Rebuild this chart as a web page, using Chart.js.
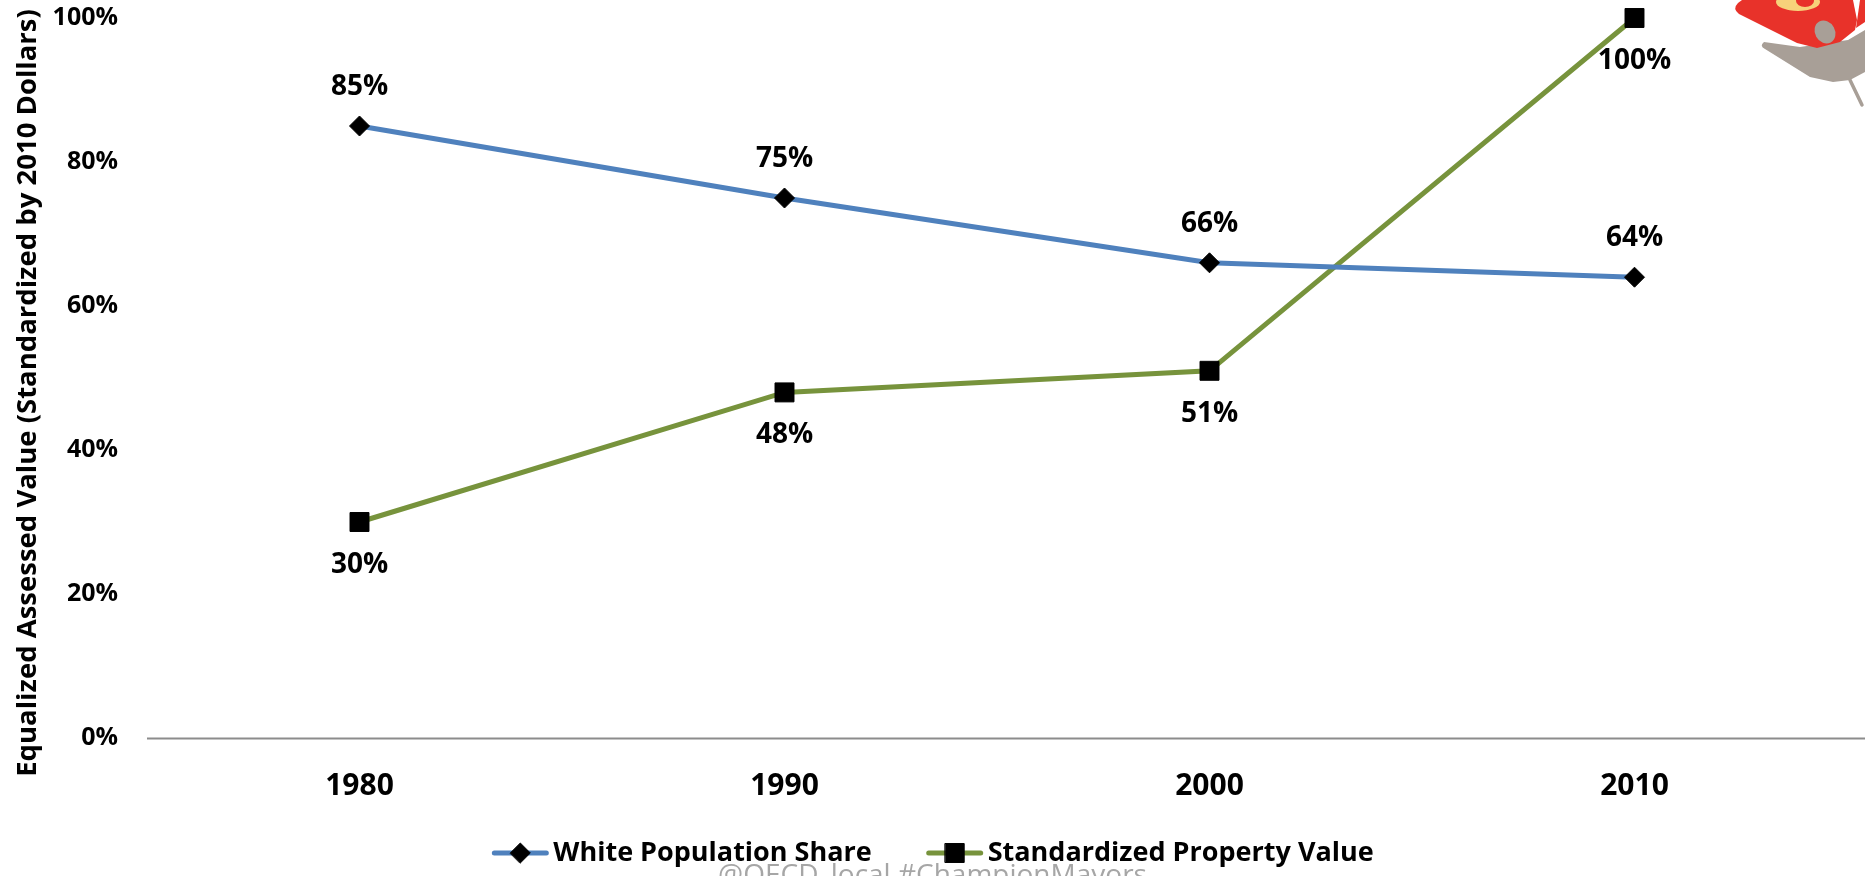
<!DOCTYPE html>
<html>
<head>
<meta charset="utf-8">
<script src="https://cdn.jsdelivr.net/npm/chart.js@4.4.1/dist/chart.umd.min.js"></script>
<style>
body { margin: 0; background: #fff; }
canvas { display: block; }
</style>
</head>
<body>
<canvas id="chart" width="1865" height="876"></canvas>
<script>
// values
var years = ['1980', '1990', '2000', '2010']
var whiteShare = [85, 75, 66, 64]
var propertyValue = [30, 48, 51, 100]
var seriesNames = ['White Population Share', 'Standardized Property Value']
var yTitle = 'Equalized Assessed Value (Standardized by 2010 Dollars)'
var watermark = '@OECD_local #ChampionMayors'

var FONT = '"Open Sans", "Noto Sans", sans-serif'
var BLUE = '#4f81bd'
var GREEN = '#77933c'

// value labels above / below each marker
var labelsPlugin = {
    id: 'valueLabels',
    afterDatasetsDraw: function (chart) {
        var ctx = chart.ctx
        ctx.save()
        ctx.font = 'bold 28px ' + FONT
        ctx.fillStyle = '#000'
        ctx.textAlign = 'center'
        ctx.textBaseline = 'middle'
        chart.data.datasets.forEach(function (ds, i) {
            var off = i == 0 ? -39 : 43
            chart.getDatasetMeta(i).data.forEach(function (pt, j) {
                ctx.fillText(ds.data[j] + '%', pt.x, pt.y + off)
            })
        })
        ctx.restore()
    }
}

// zero line running out to the right edge, like the original axis
// + the y title, which sits a bit lower than chart.js would centre it
var axisPlugin = {
    id: 'axisExtras',
    beforeDatasetsDraw: function (chart) {
        var ctx = chart.ctx
        var y = Math.round(chart.scales.y.getPixelForValue(0)) + 0.5
        ctx.save()
        ctx.strokeStyle = '#8c8c8c'
        ctx.lineWidth = 2
        ctx.beginPath()
        ctx.moveTo(chart.chartArea.left, y)
        ctx.lineTo(chart.width, y)
        ctx.stroke()

        ctx.translate(28, 393)
        ctx.rotate(-Math.PI / 2)
        ctx.font = 'bold 27.5px ' + FONT
        ctx.fillStyle = '#000'
        ctx.textAlign = 'center'
        ctx.textBaseline = 'middle'
        ctx.fillText(yTitle, 0, 0)
        ctx.restore()
    }
}

// legend with line + marker, watermark and logo
var extrasPlugin = {
    id: 'extras',
    afterDraw: function (chart) {
        var ctx = chart.ctx
        ctx.save()
        ctx.font = 'bold 27px ' + FONT
        var lineW = 58, gap = 4, itemGap = 54
        var w0 = ctx.measureText(seriesNames[0]).width
        var w1 = ctx.measureText(seriesNames[1]).width
        var total = lineW + gap + w0 + itemGap + lineW + gap + w1
        var x = chart.width / 2 - total / 2
        var y = 853
        chart.data.datasets.forEach(function (ds, i) {
            ctx.strokeStyle = ds.borderColor
            ctx.lineWidth = 5
            ctx.lineCap = 'round'
            ctx.beginPath()
            ctx.moveTo(x + 3, y)
            ctx.lineTo(x + lineW - 3, y)
            ctx.stroke()
            ctx.fillStyle = '#000'
            ctx.strokeStyle = '#000'
            ctx.lineWidth = 1
            Chart.helpers.drawPoint(ctx, {
                pointStyle: ds.pointStyle,
                radius: ds.pointRadius,
                borderWidth: 1
            }, x + lineW / 2, y)
            ctx.textAlign = 'left'
            ctx.textBaseline = 'middle'
            ctx.fillText(ds.label, x + lineW + gap, y)
            x += lineW + gap + (i == 0 ? w0 : w1) + itemGap
        })

        ctx.font = '28px ' + FONT
        ctx.fillStyle = '#a6a6a6'
        ctx.textAlign = 'center'
        ctx.textBaseline = 'alphabetic'
        ctx.fillText(watermark, chart.width / 2, 884)

        // rough logo in the top right corner
        ctx.fillStyle = '#a89f97'
        ctx.beginPath()
        ctx.moveTo(1764, 42)
        ctx.quadraticCurveTo(1759, 46, 1765, 49)
        ctx.lineTo(1810, 77)
        ctx.lineTo(1833, 82)
        ctx.lineTo(1850, 80)
        ctx.lineTo(1865, 72)
        ctx.lineTo(1865, 30)
        ctx.lineTo(1848, 40)
        ctx.lineTo(1800, 47)
        ctx.closePath()
        ctx.fill()
        ctx.strokeStyle = '#a89f97'
        ctx.lineWidth = 3.5
        ctx.beginPath()
        ctx.moveTo(1850, 80)
        ctx.lineTo(1862, 105)
        ctx.stroke()

        ctx.fillStyle = '#e8322a'
        ctx.beginPath()
        ctx.moveTo(1738, 3)
        ctx.quadraticCurveTo(1732, 9, 1739, 14)
        ctx.lineTo(1797, 43)
        ctx.lineTo(1817, 48)
        ctx.lineTo(1840, 42)
        ctx.lineTo(1855, 30)
        ctx.lineTo(1857, 20)
        ctx.lineTo(1853, 0)
        ctx.lineTo(1742, 0)
        ctx.closePath()
        ctx.fill()
        ctx.beginPath()
        ctx.moveTo(1860, 0)
        ctx.lineTo(1865, 0)
        ctx.lineTo(1865, 22)
        ctx.lineTo(1856, 28)
        ctx.closePath()
        ctx.fill()

        ctx.fillStyle = '#f7d27a'
        ctx.beginPath()
        ctx.ellipse(1798, 2, 22, 9, 0, 0, Math.PI * 2)
        ctx.fill()
        ctx.fillStyle = '#e8322a'
        ctx.beginPath()
        ctx.ellipse(1805, 1, 9, 6, 0, 0, Math.PI * 2)
        ctx.fill()

        ctx.fillStyle = '#a89f97'
        ctx.beginPath()
        ctx.ellipse(1825, 32, 10, 12, -0.5, 0, Math.PI * 2)
        ctx.fill()
        ctx.restore()
    }
}

var chart = new Chart(document.getElementById('chart'), {
    type: 'line',
    data: {
        labels: years,
        datasets: [{
            label: seriesNames[0],
            data: whiteShare,
            borderColor: BLUE,
            borderWidth: 5,
            pointStyle: 'rectRot',
            pointRadius: 10,
            pointHoverRadius: 10,
            pointBackgroundColor: '#000',
            pointBorderColor: '#000',
            pointBorderWidth: 1,
            tension: 0,
            clip: false
        }, {
            label: seriesNames[1],
            data: propertyValue,
            borderColor: GREEN,
            borderWidth: 5,
            pointStyle: 'rect',
            pointRadius: 13.4,
            pointHoverRadius: 13.4,
            pointBackgroundColor: '#000',
            pointBorderColor: '#000',
            pointBorderWidth: 1,
            tension: 0,
            clip: false
        }]
    },
    options: {
        responsive: false,
        animation: false,
        layout: { padding: { top: 18, right: 18, bottom: 42, left: 0 } },
        plugins: {
            legend: { display: false },
            tooltip: { enabled: false }
        },
        scales: {
            x: {
                offset: true,
                grid: { display: false, drawTicks: false },
                border: { display: false },
                ticks: {
                    color: '#000',
                    padding: 30,
                    font: { family: FONT, size: 30, weight: 'bold' }
                }
            },
            y: {
                min: 0,
                max: 100,
                grid: { display: false, drawTicks: false },
                border: { display: false },
                ticks: {
                    stepSize: 20,
                    color: '#000',
                    padding: 29,
                    font: { family: FONT, size: 25, weight: 'bold' },
                    callback: function (v) { return v + '%' }
                },
                afterFit: function (scale) {
                    scale.width = 147
                    scale.paddingTop = 0
                    scale.paddingBottom = 0
                }
            }
        }
    },
    plugins: [axisPlugin, labelsPlugin, extrasPlugin]
})
</script>
</body>
</html>
